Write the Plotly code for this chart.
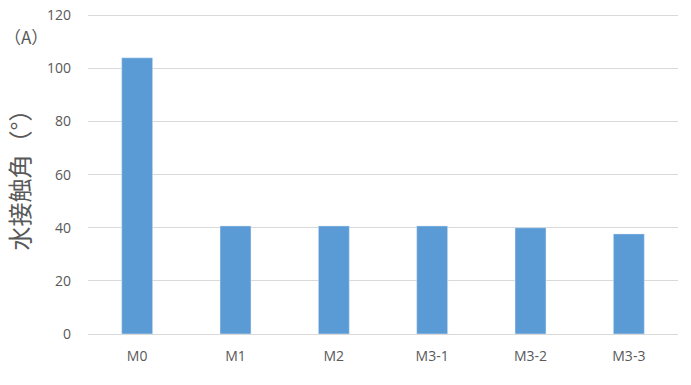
import plotly.graph_objects as go

categories = ["M0", "M1", "M2", "M3-1", "M3-2", "M3-3"]
values = [104.0, 40.7, 40.7, 40.7, 40.0, 37.7]
y_ticks = [0, 20, 40, 60, 80, 100, 120]

fig = go.Figure(go.Bar(x=categories, y=values, marker_color="#5b9bd5", width=0.315))

font_fam = "Open Sans, Liberation Sans, Noto Sans CJK JP, sans-serif"
fig.update_layout(
    width=691, height=385,
    margin=dict(l=88, r=13, t=14, b=51, autoexpand=False),
    plot_bgcolor="white", paper_bgcolor="white",
    font=dict(family=font_fam, color="#595959", size=14),
    showlegend=False,
)
fig.update_yaxes(
    range=[0, 120.5], tickvals=y_ticks, showgrid=True, gridcolor="#d9d9d9", gridwidth=1,
    zeroline=False, showline=False, ticks="", ticklabelstandoff=16,
    title=dict(text="水接触角（°）", font=dict(size=24, color="#595959", family="Noto Sans CJK JP, sans-serif"), standoff=10),
)
fig.update_xaxes(
    showline=True, linecolor="#d9d9d9", linewidth=1, ticks="", showgrid=False,
    ticklabelstandoff=9,
)
fig.add_annotation(
    text="（A）", xref="paper", yref="paper", x=-0.145, y=0.93,
    xanchor="left", yanchor="middle", showarrow=False,
    font=dict(size=17, color="#595959", family="Noto Sans CJK JP, sans-serif"),
)
fig.write_html("out.html")
